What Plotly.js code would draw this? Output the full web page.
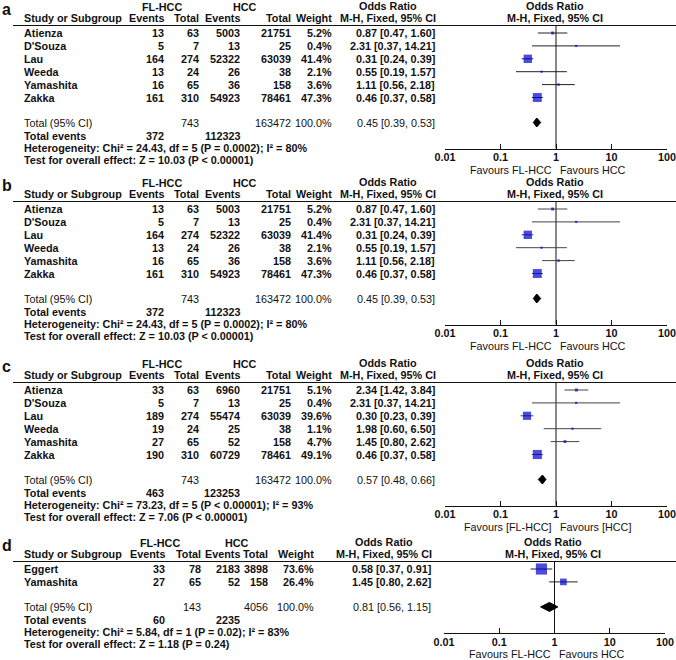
<!DOCTYPE html>
<html>
<head>
<meta charset="utf-8">
<script src="https://cdn.plot.ly/plotly-3.0.1.min.js"></script>
<style>html,body{margin:0;padding:0;background:#fff;}#chart{width:676px;height:660px;}</style>
</head>
<body>
<div id="chart"></div>
<script>
// ---------------- DATA ----------------
// Panel a
const studiesA   = ["Atienza", "D'Souza", "Lau", "Weeda", "Yamashita", "Zakka"];
const flEventsA  = [13, 5, 164, 13, 16, 161];
const flTotalA   = [63, 7, 274, 24, 65, 310];
const hccEventsA = [5003, 13, 52322, 26, 36, 54923];
const hccTotalA  = [21751, 25, 63039, 38, 158, 78461];
const weightA    = [5.2, 0.4, 41.4, 2.1, 3.6, 47.3];
const orA        = [0.87, 2.31, 0.31, 0.55, 1.11, 0.46];
const loA        = [0.47, 0.37, 0.24, 0.19, 0.56, 0.37];
const hiA        = [1.60, 14.21, 0.39, 1.57, 2.18, 0.58];
const pooledA    = [0.45, 0.39, 0.53];
const totalsA    = [743, 163472];
const totEventsA = [372, 112323];
const hetA  = "Heterogeneity: Chi² = 24.43, df = 5 (P = 0.0002); I² = 80%";
const testA = "Test for overall effect: Z = 10.03 (P < 0.00001)";

// Panel b
const studiesB   = ["Atienza", "D'Souza", "Lau", "Weeda", "Yamashita", "Zakka"];
const flEventsB  = [13, 5, 164, 13, 16, 161];
const flTotalB   = [63, 7, 274, 24, 65, 310];
const hccEventsB = [5003, 13, 52322, 26, 36, 54923];
const hccTotalB  = [21751, 25, 63039, 38, 158, 78461];
const weightB    = [5.2, 0.4, 41.4, 2.1, 3.6, 47.3];
const orB        = [0.87, 2.31, 0.31, 0.55, 1.11, 0.46];
const loB        = [0.47, 0.37, 0.24, 0.19, 0.56, 0.37];
const hiB        = [1.60, 14.21, 0.39, 1.57, 2.18, 0.58];
const pooledB    = [0.45, 0.39, 0.53];
const totalsB    = [743, 163472];
const totEventsB = [372, 112323];
const hetB  = "Heterogeneity: Chi² = 24.43, df = 5 (P = 0.0002); I² = 80%";
const testB = "Test for overall effect: Z = 10.03 (P < 0.00001)";

// Panel c
const studiesC   = ["Atienza", "D'Souza", "Lau", "Weeda", "Yamashita", "Zakka"];
const flEventsC  = [33, 5, 189, 19, 27, 190];
const flTotalC   = [63, 7, 274, 24, 65, 310];
const hccEventsC = [6960, 13, 55474, 25, 52, 60729];
const hccTotalC  = [21751, 25, 63039, 38, 158, 78461];
const weightC    = [5.1, 0.4, 39.6, 1.1, 4.7, 49.1];
const orC        = [2.34, 2.31, 0.30, 1.98, 1.45, 0.46];
const loC        = [1.42, 0.37, 0.23, 0.60, 0.80, 0.37];
const hiC        = [3.84, 14.21, 0.39, 6.50, 2.62, 0.58];
const pooledC    = [0.57, 0.48, 0.66];
const totalsC    = [743, 163472];
const totEventsC = [463, 123253];
const hetC  = "Heterogeneity: Chi² = 73.23, df = 5 (P < 0.00001); I² = 93%";
const testC = "Test for overall effect: Z = 7.06 (P < 0.00001)";

// Panel d
const studiesD   = ["Eggert", "Yamashita"];
const flEventsD  = [33, 27];
const flTotalD   = [78, 65];
const hccEventsD = [2183, 52];
const hccTotalD  = [3898, 158];
const weightD    = [73.6, 26.4];
const orD        = [0.58, 1.45];
const loD        = [0.37, 0.80];
const hiD        = [0.91, 2.62];
const pooledD    = [0.81, 0.56, 1.15];
const totalsD    = [143, 4056];
const totEventsD = [60, 2235];
const hetD  = "Heterogeneity: Chi² = 5.84, df = 1 (P = 0.02); I² = 83%";
const testD = "Test for overall effect: Z = 1.18 (P = 0.24)";

const tickVals   = [0.01, 0.1, 1, 10, 100];
const tickLabels = ["0.01", "0.1", "1", "10", "100"];

// ---------------- LAYOUT HELPERS ----------------
const W = 676, H = 660;
const FONT = "Liberation Sans, Arial, Helvetica, sans-serif";
const FS = 10.8;
const colsWide = {ev1:165, tot1:200, ev2:241, tot2:292, wt:333, ort:436, orHead:388, fl:162, hcc:245, plotHead:555, x0:445, x1:667};
const colsNarrow = {ev1:166, tot1:202, ev2:241, tot2:269, wt:315, ort:432, orHead:384, fl:160, hcc:237, plotHead:553, x0:444, x1:665};

const panels = [
  {label:"a", top:0,   cols:colsWide, st:studiesA, fe:flEventsA, ft:flTotalA, he:hccEventsA, ht:hccTotalA, w:weightA, or:orA, lo:loA, hi:hiA, pooled:pooledA, totals:totalsA, tev:totEventsA, het:hetA, test:testA, fav:["Favours FL-HCC","Favours HCC"], ci:"#222"},
  {label:"b", top:176, cols:colsWide, st:studiesB, fe:flEventsB, ft:flTotalB, he:hccEventsB, ht:hccTotalB, w:weightB, or:orB, lo:loB, hi:hiB, pooled:pooledB, totals:totalsB, tev:totEventsB, het:hetB, test:testB, fav:["Favours FL-HCC","Favours HCC"], ci:"#444"},
  {label:"c", top:357, cols:colsWide, st:studiesC, fe:flEventsC, ft:flTotalC, he:hccEventsC, ht:hccTotalC, w:weightC, or:orC, lo:loC, hi:hiC, pooled:pooledC, totals:totalsC, tev:totEventsC, het:hetC, test:testC, fav:["Favours [FL-HCC]","Favours [HCC]"], ci:"#444"},
  {label:"d", top:536, cols:colsNarrow, st:studiesD, fe:flEventsD, ft:flTotalD, he:hccEventsD, ht:hccTotalD, w:weightD, or:orD, lo:loD, hi:hiD, pooled:pooledD, totals:totalsD, tev:totEventsD, het:hetD, test:testD, fav:["Favours FL-HCC","Favours HCC"], ci:"#222"}
];

const ROW = 12.9, FIRST = 33;
const traces = [], annotations = [], shapes = [];
const layout = {
  width: W, height: H, margin: {l:0, r:0, t:0, b:0},
  paper_bgcolor: "#fff", plot_bgcolor: "rgba(0,0,0,0)",
  showlegend: false,
  font: {family: FONT, size: FS, color: "#111"},
  yaxis: {range: [H, 0], domain: [0, 1], visible: false, fixedrange: true}
};

function fmt2(v){ return v.toFixed(2); }
function orText(o, l, h){ return fmt2(o) + " [" + fmt2(l) + ", " + fmt2(h) + "]"; }
function txt(x, y, text, anchor, opts) {
  opts = opts || {};
  annotations.push({
    xref: "paper", yref: "y", x: x / W, y: y, text: opts.bold === false ? text : "<b>" + text + "</b>",
    xanchor: anchor, yanchor: "middle", showarrow: false, borderpad: 0,
    font: {family: FONT, size: opts.size || FS, color: "#111"}
  });
}

panels.forEach((p, k) => {
  const c = p.cols, T = p.top;
  const n = p.st.length;
  const rowY = i => T + FIRST + ROW * i;
  const totalY = rowY(n - 1) + 25;
  const axisY = totalY + 26;
  const xa = "x" + (k + 1);
  const xaKey = k === 0 ? "xaxis" : "xaxis" + (k + 1);

  layout[xaKey] = {
    type: "log", range: [-2.0005, 2.0005], domain: [c.x0 / W, c.x1 / W],
    anchor: "free", position: 1 - axisY / H,
    showline: true, linecolor: "#111", linewidth: 1,
    ticks: "inside", ticklen: 5, tickwidth: 1, tickcolor: "#111",
    ticklabelstandoff: -1,
    tickmode: "array", tickvals: tickVals, ticktext: tickLabels.map(t => "<b>" + t + "</b>"),
    tickfont: {family: FONT, size: FS, color: "#111"},
    showgrid: false, zeroline: false, fixedrange: true
  };

  // Panel letter
  txt(1, T + 9, p.label, "left", {size: 16});
  // Header rows
  txt(c.fl, T + 7, "FL-HCC", "center");
  txt(c.hcc, T + 7, "HCC", "center");
  txt(c.orHead, T + 6, "Odds Ratio", "center");
  txt(c.plotHead, T + 6, "Odds Ratio", "center");
  txt(23, T + 18, "Study or Subgroup", "left");
  txt(c.ev1, T + 18, "Events", "right");
  txt(c.tot1, T + 18, "Total", "right");
  txt(c.ev2, T + 18, "Events", "right");
  txt(c.tot2, T + 18, "Total", "right");
  txt(c.wt, T + 18, "Weight", "right");
  txt(c.orHead, T + 18, "M-H, Fixed, 95% CI", "center");
  txt(c.plotHead, T + 18, "M-H, Fixed, 95% CI", "center");
  shapes.push({type: "line", xref: "paper", yref: "y", x0: 13 / W, x1: 1, y0: T + 25.5, y1: T + 25.5, line: {color: "#111", width: 1}});

  // Study rows
  p.st.forEach((s, i) => {
    const y = rowY(i);
    txt(23, y, s, "left");
    txt(c.ev1, y, String(p.fe[i]), "right");
    txt(c.tot1, y, String(p.ft[i]), "right");
    txt(c.ev2, y, String(p.he[i]), "right");
    txt(c.tot2, y, String(p.ht[i]), "right");
    txt(c.wt, y, p.w[i].toFixed(1) + "%", "right");
    txt(c.ort, y, orText(p.or[i], p.lo[i], p.hi[i]), "right");
  });

  // Total row
  txt(23, totalY, "Total (95% CI)", "left", {bold: false});
  txt(c.tot1, totalY, String(p.totals[0]), "right", {bold: false});
  txt(c.tot2, totalY, String(p.totals[1]), "right", {bold: false});
  txt(c.wt, totalY, "100.0%", "right", {bold: false});
  txt(c.ort, totalY, orText(p.pooled[0], p.pooled[1], p.pooled[2]), "right", {bold: false});
  // Footer rows
  txt(23, totalY + 13, "Total events", "left");
  txt(c.ev1, totalY + 13, String(p.tev[0]), "right");
  txt(c.ev2, totalY + 13, String(p.tev[1]), "right");
  txt(23, totalY + 25, p.het, "left");
  txt(23, totalY + 37, p.test, "left");

  // Favours labels
  const mid = (c.x0 + c.x1) / 2;
  txt(mid - 3, axisY + 21, p.fav[0], "right", {bold: false});
  txt(mid + 3, axisY + 21, p.fav[1], "left", {bold: false});

  // Line of no effect
  traces.push({type: "scatter", mode: "lines", xaxis: xa, yaxis: "y",
    x: [1, 1], y: [T + 25.5, axisY], line: {color: "#111", width: 1}, hoverinfo: "skip", cliponaxis: false});

  // CI whiskers
  const cx = [], cy = [];
  p.st.forEach((s, i) => { cx.push(p.lo[i], p.hi[i], null); cy.push(rowY(i), rowY(i), null); });
  traces.push({type: "scatter", mode: "lines", xaxis: xa, yaxis: "y", x: cx, y: cy,
    line: {color: p.ci, width: 1}, hoverinfo: "skip", cliponaxis: false});

  // Study squares
  traces.push({type: "scatter", mode: "markers", xaxis: xa, yaxis: "y",
    x: p.or, y: p.st.map((s, i) => rowY(i)),
    marker: {symbol: "square", color: "#0000CC", size: p.w.map(w => Math.max(2.2, 1.3 * Math.sqrt(w))), line: {width: 0}},
    hoverinfo: "skip", cliponaxis: false});

  // Pooled diamond
  traces.push({type: "scatter", mode: "lines", xaxis: xa, yaxis: "y", fill: "toself",
    x: [p.pooled[1], p.pooled[0], p.pooled[2], p.pooled[0], p.pooled[1]],
    y: [totalY, totalY - 4.5, totalY, totalY + 4.5, totalY],
    fillcolor: "#000", line: {color: "#000", width: 1}, hoverinfo: "skip", cliponaxis: false});
});

layout.annotations = annotations;
layout.shapes = shapes;

Plotly.newPlot("chart", traces, layout, {staticPlot: true, displayModeBar: false});
</script>
</body>
</html>
